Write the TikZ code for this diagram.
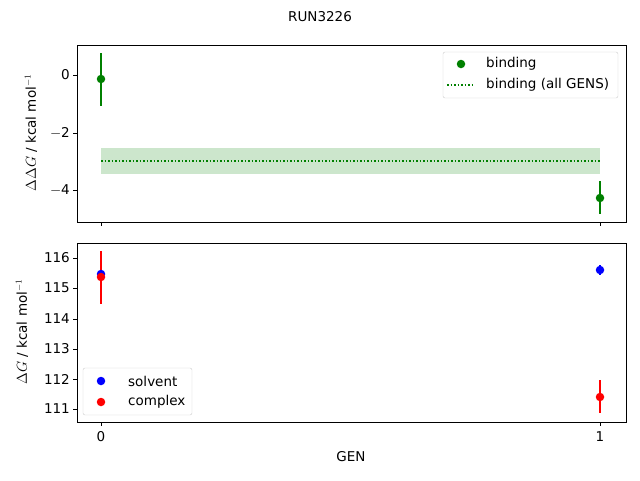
\documentclass[tikz,border=0pt]{standalone}
\usepackage{fontspec}
\setmainfont{DejaVu Sans}
\begin{document}
\begin{tikzpicture}[x=1pt,y=-1pt,font=\fontsize{13.5}{16}\selectfont,
  ax/.style={draw=black,line width=0.8pt},
  tk/.style={line width=0.8pt},
  eb/.style={line width=1.5pt},
  dot/.style={circle,inner sep=0pt,minimum size=8.5pt},
  lbl/.style={inner sep=0pt}]
\useasboundingbox (0,0) rectangle (640,480);
\definecolor{mgreen}{RGB}{0,128,0}
\node[lbl] (title) at (320,17) {RUN3226};
% top axes
\fill[mgreen,opacity=0.2] (101,148) rectangle (600,174);
\draw[mgreen,dotted,line width=1.5pt] (101,161) -- (600,161);
\draw[eb,mgreen] (101,53) -- (101,106);
\draw[eb,mgreen] (600,181) -- (600,214);
\node[dot,fill=mgreen] (b0) at (101,79) {};
\node[dot,fill=mgreen] (b1) at (600,198) {};
\draw[ax] (77,45) rectangle (626,222);
\foreach \y/\t in {75/0,133/$-$2,190/$-$4}{
  \draw[tk] (77,\y) -- (73,\y);
  \node[lbl,anchor=east] at (70,\y) {\t};}
\draw[tk] (101,222) -- (101,226);
\draw[tk] (600,222) -- (600,226);
\node[lbl,rotate=90] (yl1) at (31,133) {$\Delta\Delta G$ / kcal mol$^{-1}$};
\draw[black!20,fill=white,fill opacity=0.8,rounded corners=2pt] (443,52) rectangle (618,98);
\node[dot,fill=mgreen] (lg1) at (461,64) {};
\node[lbl,anchor=west] at (486,64) {binding};
\draw[mgreen,dotted,line width=1.5pt] (447,85) -- (475,85);
\node[lbl,anchor=west] at (486,85) {binding (all GENS)};
% bottom axes
\draw[eb,blue] (600,265) -- (600,275);
\draw[eb,red] (101,251) -- (101,304);
\draw[eb,red] (600,380) -- (600,413);
\node[dot,fill=blue] (s0) at (101,274) {};
\node[dot,fill=blue] (s1) at (600,270) {};
\node[dot,fill=red] (c0) at (101,277) {};
\node[dot,fill=red] (c1) at (600,397) {};
\draw[ax] (77,243) rectangle (626,422);
\foreach \y/\t in {258/116,288/115,319/114,349/113,379/112,409/111}{
  \draw[tk] (77,\y) -- (73,\y);
  \node[lbl,anchor=east] at (70,\y) {\t};}
\draw[tk] (101,422) -- (101,426);
\draw[tk] (600,422) -- (600,426);
\node[lbl] at (101,437) {0};
\node[lbl] at (600,437) {1};
\node[lbl] (xl) at (351,457) {GEN};
\node[lbl,rotate=90] (yl2) at (22,332) {$\Delta G$ / kcal mol$^{-1}$};
\draw[black!20,fill=white,fill opacity=0.8,rounded corners=2pt] (83,368) rectangle (192,415);
\node[dot,fill=blue] (lg2) at (101,381) {};
\node[lbl,anchor=west] at (128,381) {solvent};
\node[dot,fill=red] (lg3) at (101,402) {};
\node[lbl,anchor=west] at (128,402) {complex};
\end{tikzpicture}
\end{document}
